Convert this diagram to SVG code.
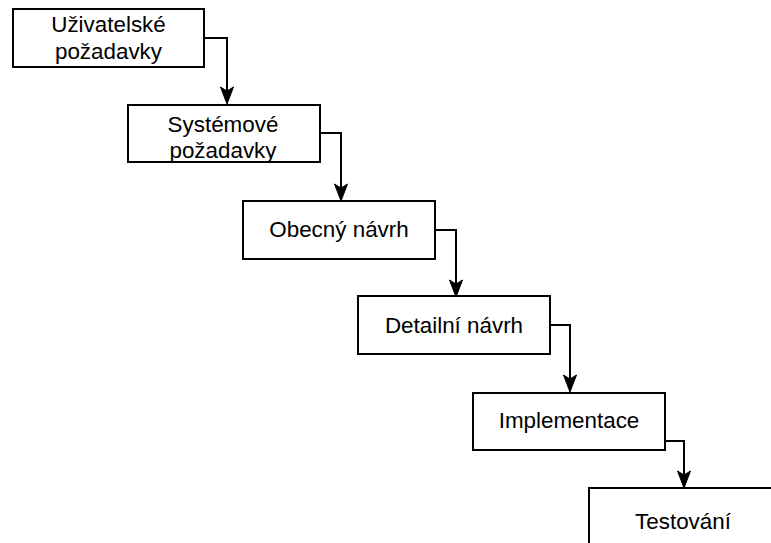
<svg xmlns="http://www.w3.org/2000/svg" width="771" height="543" viewBox="0 0 771 543">
  <style>
    .box { fill: #ffffff; stroke: #000000; stroke-width: 2; }
    .label { font-family: "Liberation Sans", Arial, Helvetica, sans-serif; font-size: 22.4px; fill: #000000; text-anchor: middle; }
    .edge { fill: none; stroke: #000000; stroke-width: 2; }
  </style>
  <defs>
    <marker id="arrow" markerUnits="userSpaceOnUse" markerWidth="20" markerHeight="20" refX="0" refY="0" orient="auto" overflow="visible">
      <path d="M13,0 L-4,-6.5 L0,0 L-4,6.5 Z" fill="#000000" stroke="#000000" stroke-width="1" stroke-linejoin="miter"/>
    </marker>
  </defs>
  <rect width="771" height="543" fill="#ffffff"/>

  <g id="connectors">
    <path class="edge" d="M204,38 H227 V91" marker-end="url(#arrow)"/>
    <path class="edge" d="M320,133 H341 V188" marker-end="url(#arrow)"/>
    <path class="edge" d="M435,230 H456 V284" marker-end="url(#arrow)"/>
    <path class="edge" d="M550,325 H570 V379" marker-end="url(#arrow)"/>
    <path class="edge" d="M665,441 H684 V475" marker-end="url(#arrow)"/>
  </g>

  <g id="uzivatelske-pozadavky">
    <rect class="box" x="13" y="9" width="191" height="58"/>
    <text class="label" x="108.5" y="32">Uživatelské</text>
    <text class="label" x="108.5" y="58.5">požadavky</text>
  </g>

  <g id="systemove-pozadavky">
    <rect class="box" x="128" y="105" width="192" height="57"/>
    <text class="label" x="223" y="131.5">Systémové</text>
    <text class="label" x="223" y="158">požadavky</text>
  </g>

  <g id="obecny-navrh">
    <rect class="box" x="243" y="201" width="192" height="58"/>
    <text class="label" x="339" y="237">Obecný návrh</text>
  </g>

  <g id="detailni-navrh">
    <rect class="box" x="358" y="296" width="192" height="58"/>
    <text class="label" x="454" y="333">Detailní návrh</text>
  </g>

  <g id="implementace">
    <rect class="box" x="473" y="393" width="192" height="57"/>
    <text class="label" x="569" y="428">Implementace</text>
  </g>

  <g id="testovani">
    <rect class="box" x="589" y="488" width="200" height="80"/>
    <text class="label" x="683" y="529">Testování</text>
  </g>
</svg>
